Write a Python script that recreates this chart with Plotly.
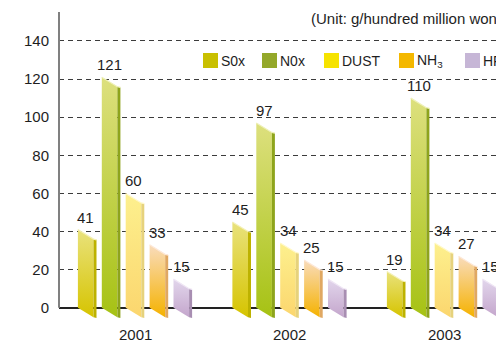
import plotly.graph_objects as go

# ---- data -------------------------------------------------------------
years = ["2001", "2002", "2003"]
series_names = ["S0x", "N0x", "DUST", "NH<sub>3</sub>", "HF"]
sox = [41, 45, 19]
nox = [121, 97, 110]
dust = [60, 34, 34]
nh3 = [33, 25, 27]
hf = [15, 15, 15]
y_ticks = [0, 20, 40, 60, 80, 100, 120, 140]
unit_text = "(Unit: g/hundred million won)"

series = [sox, nox, dust, nh3, hf]

# ---- styles -----------------------------------------------------------
face_top = ["#e9e27c", "#dde07e", "#fdf08e", "#f9dcbc", "#e2d6ec"]
face_bottom = ["#d6c400", "#a6c214", "#fbd66e", "#f5b200", "#c4a6cc"]
side_color = ["#bdb200", "#8ea41c", "#e6d27c", "#e0a862", "#a88eb2"]
edge_color = ["#f4f0b8", "#eef0b8", "#fff8c8", "#fde8d8", "#efe6f4"]
legend_color = ["#c9c000", "#94a82a", "#f6e300", "#f4b800", "#c6b6d6"]

FONT = "Liberation Sans, Arial, sans-serif"
INK = "#1e1e1e"

PITCH = 0.1547   # distance between bars inside a year group
FACE = 0.101     # front face width
SIDE = 0.0194    # depth strip width
SLANT = 5.0      # downward tilt of the bar top/bottom (value units)

W, H = 496, 346
ML, MT = 59, 12
X_RANGE = [-0.4919, 2.3366]
Y_RANGE = [-20.1, 155.2]

fig = go.Figure()
annotations = []

for k, vals in enumerate(series):
    for g, v in enumerate(vals):
        xl = g + (k - 2) * PITCH - (FACE + SIDE) / 2
        xr = xl + FACE
        xs = xr + SIDE
        # front face with vertical gradient
        fig.add_trace(go.Scatter(
            x=[xl, xl, xr, xr, xl],
            y=[0, v, v - SLANT, -SLANT, 0],
            mode="lines", fill="toself", line=dict(width=0),
            fillgradient=dict(type="vertical",
                              colorscale=[[0, face_bottom[k]], [1, face_top[k]]]),
            hoverinfo="skip", showlegend=False))
        # depth strip
        fig.add_trace(go.Scatter(
            x=[xr, xr, xs, xs, xr],
            y=[-SLANT, v - SLANT, v - SLANT - 0.4, -SLANT - 0.4, -SLANT],
            mode="lines", fill="toself", line=dict(width=0),
            fillcolor=side_color[k], hoverinfo="skip", showlegend=False))
        # light top edge
        fig.add_trace(go.Scatter(
            x=[xl, xr, xs], y=[v, v - SLANT, v - SLANT - 0.4],
            mode="lines", line=dict(width=1.2, color=edge_color[k]),
            hoverinfo="skip", showlegend=False))
        # value label
        annotations.append(dict(
            x=xl + FACE / 2, y=v, xref="x", yref="y",
            text=str(v), showarrow=False, yanchor="bottom", yshift=2,
            font=dict(family=FONT, size=15, color=INK)))

# year labels under each group
for g, yr in enumerate(years):
    annotations.append(dict(
        x=g, y=-14.3, xref="x", yref="y", text=yr, showarrow=False,
        yanchor="middle", font=dict(family=FONT, size=15, color=INK)))


def px_x(px):
    return (px - ML) / (W - ML)


def px_y(py):
    return (H - py) / (H - MT)


# unit note
annotations.append(dict(
    x=px_x(309), y=px_y(18.5), xref="paper", yref="paper", text=unit_text,
    showarrow=False, xanchor="left", yanchor="middle",
    font=dict(family=FONT, size=15, color=INK)))

# legend row
shapes = []
legend_px = [203, 262, 324, 399, 465]
for name, col, lx in zip(series_names, legend_color, legend_px):
    shapes.append(dict(type="rect", xref="paper", yref="paper",
                       x0=px_x(lx), x1=px_x(lx + 15), y0=px_y(68), y1=px_y(53),
                       fillcolor=col, line=dict(width=0)))
    annotations.append(dict(
        x=px_x(lx + 16), y=px_y(60.5), xref="paper", yref="paper", text=name,
        showarrow=False, xanchor="left", yanchor="middle",
        font=dict(family=FONT, size=14, color=INK)))

# vertical value axis line (top of plot down to zero)
shapes.append(dict(type="line", xref="paper", yref="y", x0=0, x1=0,
                   y0=0, y1=Y_RANGE[1], line=dict(color="#808080", width=2)))

fig.update_layout(
    width=W, height=H,
    margin=dict(l=ML, r=0, t=MT, b=0),
    paper_bgcolor="white", plot_bgcolor="white",
    showlegend=False,
    shapes=shapes, annotations=annotations,
    xaxis=dict(range=X_RANGE, showgrid=False, zeroline=False,
               showticklabels=False, showline=False, fixedrange=True),
    yaxis=dict(range=Y_RANGE, tickvals=y_ticks, showgrid=True,
               griddash="5px,4px", gridcolor="#3c3c3c", gridwidth=1,
               zeroline=True, zerolinecolor="#222222", zerolinewidth=1.5,
               ticks="outside", ticklen=6, tickcolor="rgba(0,0,0,0)",
               showline=False, fixedrange=True,
               tickfont=dict(family=FONT, size=15, color=INK)),
)

fig.write_html("out.html")
